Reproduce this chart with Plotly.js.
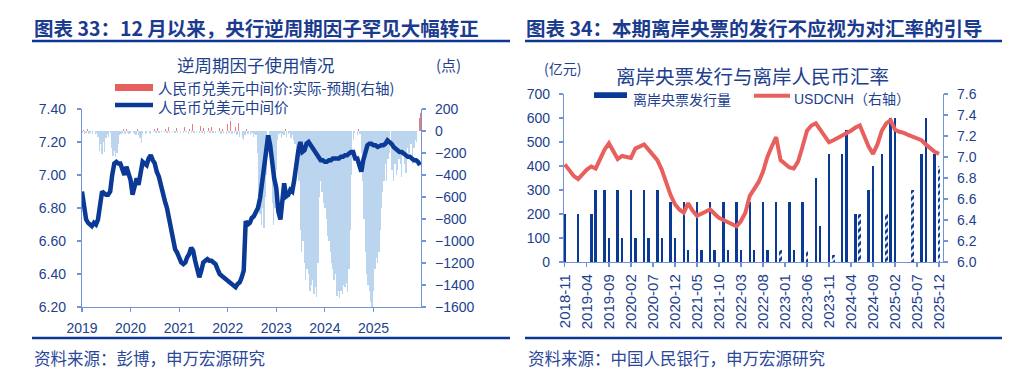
<!DOCTYPE html>
<html><head><meta charset="utf-8">
<script src="https://cdn.plot.ly/plotly-3.0.1.min.js"></script>
<style>html,body{margin:0;padding:0;background:#fff;}#chart{width:1024px;height:388px;}</style>
</head><body><div id="chart"></div>
<script>
// ---------------- DATA ----------------
// Left chart: CNY central parity (semi-monthly, 1st & 16th), 2019-2025
const years = [2019, 2020, 2021, 2022, 2023, 2024, 2025];
const cnyMid = [
  6.90,6.80, 6.73,6.71, 6.70,6.69, 6.71,6.70, 6.73,6.84, 6.90,6.89, 6.88,6.88, 6.90,7.00, 7.07,7.08, 7.07,7.07, 7.04,7.00, 7.05,7.01,
  6.97,6.88, 6.93,6.98, 6.94,7.02, 7.08,7.07, 7.06,7.10, 7.12,7.09, 7.07,7.02, 6.99,6.94, 6.87,6.84, 6.80,6.73, 6.68,6.60, 6.55,6.53,
  6.49,6.47, 6.46,6.47, 6.50,6.52, 6.56,6.54, 6.48,6.42, 6.38,6.42, 6.47,6.48, 6.49,6.48, 6.48,6.47, 6.46,6.43, 6.40,6.39, 6.38,6.37,
  6.36,6.35, 6.34,6.33, 6.32,6.34, 6.35,6.38, 6.42,6.72, 6.70,6.71, 6.74,6.75, 6.77,6.80, 6.86,6.95, 7.05,7.12, 7.24,7.18, 7.05,6.98,
  6.92,6.78, 6.73,6.83, 6.95,6.87, 6.88,6.91, 6.90,6.97, 7.08,7.15, 7.20,7.14, 7.15,7.19, 7.20,7.18, 7.17,7.15, 7.13,7.10, 7.09,7.09,
  7.08,7.08, 7.09,7.09, 7.10,7.10, 7.10,7.10, 7.11,7.11, 7.12,7.12, 7.13,7.14, 7.14,7.10, 7.10,7.06, 7.02,7.09, 7.14,7.18, 7.19,7.19,
  7.18,7.18, 7.17,7.18, 7.18,7.18, 7.19,7.21, 7.20,7.19, 7.17,7.16, 7.15,7.14, 7.14,7.13, 7.12,7.11, 7.11,7.10, 7.09,7.09, 7.08,7.06
];
// Counter-cyclical factor: actual minus expected fixing (points), 3 readings per month (1st, 11th, 21st)
const ccf = [
  -20,10,-25, -15,20,-30, -20,15,-25, 10,-30,-20, -50,-180,-120, -210,-100,-190, -60,-30,-50, -20,-150,-230, -180,-240,-200, -120,-40,-30, -20,15,-25, 20,-15,-30,
  -20,25,-15, -30,-40,15, -40,-60,-110, -30,20,-25, -20,30,-15, -25,20,-10, 15,-20,30, -15,25,-10, 30,-10,20, -15,35,-20, 25,-10,40, -20,30,-15,
  25,-20,35, -15,40,-10, 30,-25,20, -15,60,-20, 35,-10,70, -20,45,-15, 30,-25,50, -10,25,-20, 40,-15,30, -20,35,-10, 25,-30,20, -15,45,-25,
  60,-20,90, -30,100,-20, 40,-40,70, -50,30,-60, -80,-40,20, -30,25,-40, -20,-50,-30, -40,-200,-600, -750,-850,-700, -880,-600,-400, 90,-150,-300, -650,-850,-700,
  -350,-80,-30, -20,-60,-30, -40,15,-50, -30,-20,-60, -40,-80,-120, -150,-250,-450, -900,-1100,-1000, -1200,-1350,-1250, -1300,-1450,-1400, -1350,-1480,-1420, -1510,-1200,-600, -450,-550,-650,
  -700,-800,-950, -1000,-1100,-1200, -1250,-1350,-1300, -1500,-1450,-1520, -1450,-1480,-1400, -1420,-1380,-1460, -1250,-900,-400, -80,-20,15, -40,20,-30, -200,-450,-800, -1100,-1300,-1400, -1450,-1550,-1600,
  -1450,-1250,-1150, -1200,-1100,-900, -700,-550,-450, -300,-450,-250, -200,110,-350, -450,-300,-400, -350,-250,-300, -420,-200,-300, -380,-150,-250, -200,-120,-300, -150,-80,-100, 150,120,160
];
// Right chart: offshore PBoC bill issuance (100m CNY) and USDCNH, monthly 2018-11 .. 2025-12
const issueSolid = [
  200,null,
  null,200,null,null,200,300,null,300,100,null,300,100,
  null,300,100,null,300,100,null,300,100,null,250,100,
  null,250,50,null,250,50,null,250,50,null,250,50,
  null,250,50,null,250,50,null,250,50,null,250,null,
  null,250,50,null,250,null,null,350,150,null,450,null,
  null,450,550,null,200,null,null,300,400,null,450,null,
  600,600,null,null,null,null,null,450,600,null,450,null
];
const issueHatched = [
  null,null,
  null,null,null,null,null,null,null,null,null,null,null,null,
  null,null,null,null,null,null,null,null,null,null,null,null,
  null,null,null,null,null,null,null,null,null,null,null,null,
  null,null,null,null,null,null,null,null,null,null,null,50,
  null,null,null,null,null,50,null,null,null,null,null,30,
  null,null,null,null,null,200,null,null,null,null,null,200,
  null,null,null,null,null,300,null,null,null,null,null,400
];
const usdcnh = [
  6.93,6.87,
  6.82,6.79,6.84,6.88,6.91,6.89,6.98,7.07,7.13,7.05,6.98,7.01,
  7.00,6.99,7.08,7.10,7.12,7.07,7.02,6.97,6.88,6.76,6.64,6.55,
  6.50,6.47,6.56,6.49,6.44,6.46,6.48,6.50,6.46,6.42,6.40,6.38,
  6.36,6.34,6.39,6.47,6.63,6.69,6.76,6.86,7.00,7.10,7.19,6.97,
  6.94,6.90,6.89,6.96,7.10,7.25,7.30,7.32,7.26,7.20,7.14,7.16,
  7.18,7.20,7.22,7.25,7.28,7.30,7.20,7.10,7.03,7.12,7.25,7.32,
  7.35,7.26,7.24,7.23,7.21,7.19,7.17,7.16,7.12,7.08,7.05,7.03
];
const rightTickLabels = ['2018-11','2019-04','2019-09','2020-02','2020-07','2020-12','2021-05','2021-10','2022-03',
  '2022-08','2023-01','2023-06','2023-11','2024-04','2024-09','2025-02','2025-07','2025-12'];

// ---------------- BUILD ----------------
const pad = n => String(n).padStart(2, '0');
const lineDates = [], ccfDates = [];
years.forEach(y => { for (let m = 1; m <= 12; m++) {
  ['01','16'].forEach(d => lineDates.push(`${y}-${pad(m)}-${d}`));
  ['01','11','21'].forEach(d => ccfDates.push(`${y}-${pad(m)}-${d}`));
}});
const months = [];
for (let y = 2018, m = 11; months.length < usdcnh.length; m++) { if (m > 12) { m = 1; y++; } months.push(`${y}-${pad(m)}`); }

const FONT = '"Liberation Sans", Arial, "Noto Sans CJK SC", sans-serif';
const CJK = '"Noto Sans CJK SC", "Liberation Sans", sans-serif';
const TXT = '#223f8e', AX = '#7393d8', NAVY = '#0b3996', RED = '#e8605d', LBLUE = '#bcd5ee';
const DAY = 86400000;

const traces = [
  {type:'bar', x:ccfDates, y:ccf.map(v => v < 0 ? v : null), xaxis:'x', yaxis:'y', width:10*DAY,
   marker:{color:LBLUE, line:{width:0}}, hoverinfo:'skip'},
  {type:'bar', x:ccfDates, y:ccf.map(v => v > 0 ? v : null), xaxis:'x', yaxis:'y', width:4*DAY,
   marker:{color:'#ee7a7a', line:{width:0}}, hoverinfo:'skip'},
  {type:'scatter', mode:'lines', x:lineDates, y:cnyMid, xaxis:'x', yaxis:'y2',
   line:{color:NAVY, width:4.5}},
  {type:'bar', x:months, y:issueSolid, xaxis:'x2', yaxis:'y3', width:0.55,
   marker:{color:NAVY, line:{width:0}}},
  {type:'bar', x:months, y:issueHatched, xaxis:'x2', yaxis:'y3', width:0.6,
   marker:{color:'#ffffff', line:{width:0}, pattern:{shape:'/', fgcolor:NAVY, bgcolor:'#ffffff', size:5, solidity:0.55}}},
  {type:'scatter', mode:'lines', x:months, y:usdcnh, xaxis:'x2', yaxis:'y4',
   line:{color:RED, width:4}}
];

const X = p => p / 1024, Y = p => 1 - p / 388;
const axCommon = {showline:true, linecolor:AX, linewidth:1.2, ticks:'outside', tickcolor:AX, ticklen:4, tickwidth:1.2,
  showgrid:false, zeroline:false, tickfont:{family:FONT, size:14, color:TXT}};

const layout = {
  width:1024, height:388, margin:{l:0, r:0, t:0, b:0},
  paper_bgcolor:'#ffffff', plot_bgcolor:'rgba(0,0,0,0)', showlegend:false,
  barmode:'overlay', bargap:0, font:{family:FONT, color:TXT, size:14},
  xaxis:Object.assign({}, axCommon, {domain:[X(82), X(421)], anchor:'y', type:'date',
    range:['2019-01-01','2025-12-24'], tickvals:years.map(y => `${y}-01-01`), ticktext:years.map(String), ticklabelstandoff:4}),
  yaxis:Object.assign({}, axCommon, {domain:[Y(307), Y(109)], anchor:'x', side:'right', range:[-1600, 200], dtick:200,
    tickvals:[-1600,-1400,-1200,-1000,-800,-600,-400,-200,0,200], ticklabelstandoff:6}),
  yaxis2:Object.assign({}, axCommon, {overlaying:'y', anchor:'x', side:'left', range:[6.2, 7.4], dtick:0.2,
    tickformat:'.2f', ticklabelstandoff:8}),
  xaxis2:Object.assign({}, axCommon, {domain:[X(564), X(943)], anchor:'y3', type:'category', range:[-0.2, 85.9],
    tickvals:rightTickLabels, ticktext:rightTickLabels, tickangle:-90, tickfont:{family:FONT, size:15, color:TXT}, ticklabelstandoff:1}),
  yaxis3:Object.assign({}, axCommon, {domain:[Y(262), Y(94)], anchor:'x2', side:'left', range:[0, 700], dtick:100, ticklabelstandoff:6}),
  yaxis4:Object.assign({}, axCommon, {overlaying:'y3', anchor:'x2', side:'right', range:[6.0, 7.6], dtick:0.2,
    tickformat:'.1f', ticklabelstandoff:6}),
  shapes:[
    {type:'line', xref:'paper', yref:'paper', x0:X(32), x1:X(510), y0:Y(41), y1:Y(41), line:{color:'#0c3794', width:2.5}},
    {type:'line', xref:'paper', yref:'paper', x0:X(525), x1:X(1002), y0:Y(41), y1:Y(41), line:{color:'#0c3794', width:2.5}},
    {type:'line', xref:'paper', yref:'paper', x0:X(32), x1:X(510), y0:Y(338), y1:Y(338), line:{color:'#0c3794', width:2.5}},
    {type:'line', xref:'paper', yref:'paper', x0:X(525), x1:X(1002), y0:Y(338), y1:Y(338), line:{color:'#0c3794', width:2.5}},
    // legend keys
    {type:'rect', xref:'paper', yref:'paper', x0:X(115), x1:X(153), y0:Y(91), y1:Y(84), fillcolor:RED, line:{width:0}},
    {type:'line', xref:'paper', yref:'paper', x0:X(115), x1:X(153), y0:Y(105), y1:Y(105), line:{color:NAVY, width:4.5}},
    {type:'rect', xref:'paper', yref:'paper', x0:X(594), x1:X(627), y0:Y(98), y1:Y(92.3), fillcolor:NAVY, line:{width:0}},
    {type:'line', xref:'paper', yref:'paper', x0:X(754), x1:X(790), y0:Y(95.8), y1:Y(95.8), line:{color:RED, width:4}}
  ],
  annotations:[
    {text:'<b>图表 33：12 月以来，央行逆周期因子罕见大幅转正</b>', x:X(33), y:Y(27.5), xanchor:'left', yanchor:'middle', font:{family:CJK, size:19.5, color:'#1b3b8e'}},
    {text:'<b>图表 34：本期离岸央票的发行不应视为对汇率的引导</b>', x:X(525), y:Y(27.5), xanchor:'left', yanchor:'middle', font:{family:CJK, size:19.5, color:'#1b3b8e'}},
    {text:'逆周期因子使用情况', x:X(256), y:Y(64.5), xanchor:'center', yanchor:'middle', font:{family:CJK, size:17.5, color:TXT}},
    {text:'(点)', x:X(448), y:Y(65), xanchor:'center', yanchor:'middle', font:{family:CJK, size:15, color:TXT}},
    {text:'人民币兑美元中间价:实际-预期(右轴)', x:X(157), y:Y(87.5), xanchor:'left', yanchor:'middle', font:{family:CJK, size:14.5, color:TXT}},
    {text:'人民币兑美元中间价', x:X(157), y:Y(106.7), xanchor:'left', yanchor:'middle', font:{family:CJK, size:14.5, color:TXT}},
    {text:'(亿元)', x:X(562), y:Y(68), xanchor:'center', yanchor:'middle', font:{family:CJK, size:14, color:TXT}},
    {text:'离岸央票发行与离岸人民币汇率', x:X(752), y:Y(76), xanchor:'center', yanchor:'middle', font:{family:CJK, size:19.5, color:TXT}},
    {text:'离岸央票发行量', x:X(632), y:Y(98.5), xanchor:'left', yanchor:'middle', font:{family:CJK, size:14, color:TXT}},
    {text:'USDCNH（右轴）', x:X(793), y:Y(98.5), xanchor:'left', yanchor:'middle', font:{family:FONT, size:14, color:TXT}},
    {text:'资料来源：彭博，申万宏源研究', x:X(33), y:Y(358), xanchor:'left', yanchor:'middle', font:{family:CJK, size:16.5, color:'#2a479a'}},
    {text:'资料来源：中国人民银行，申万宏源研究', x:X(527), y:Y(358), xanchor:'left', yanchor:'middle', font:{family:CJK, size:16.5, color:'#2a479a'}}
  ].map(a => Object.assign({xref:'paper', yref:'paper', showarrow:false, borderpad:0}, a))
};

Plotly.newPlot('chart', traces, layout, {staticPlot:true, displayModeBar:false});
</script>
</body></html>
